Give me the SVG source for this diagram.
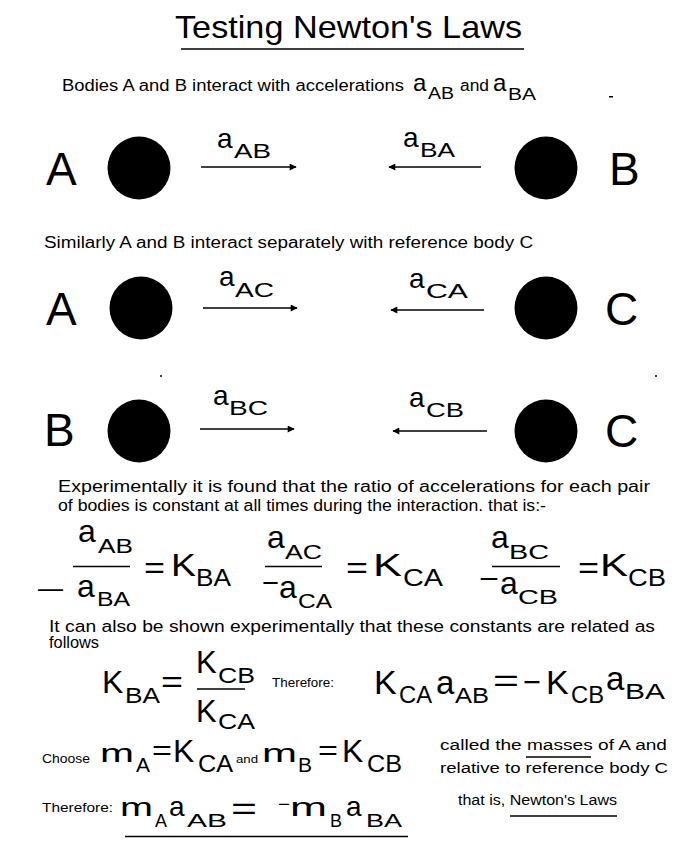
<svg xmlns="http://www.w3.org/2000/svg" width="677" height="841" viewBox="0 0 677 841">
<style>
text{font-family:"Liberation Sans",Arial,sans-serif;fill:#000}
.big{font-size:46px}
.la{font-size:28px}
.ls{font-size:21px}
.body{font-size:16px}
.sm{font-size:12.5px}
.fa{font-size:32px}
.fs{font-size:20px}
.K{font-size:31px}
.Ks{font-size:23px}
.ln{stroke:#000;stroke-width:1.3;fill:none}
.arr{stroke:#000;stroke-width:1.6;fill:none;marker-end:url(#ah)}
</style>
<defs>
<marker id="ah" viewBox="0 0 10 10" refX="9" refY="5" markerUnits="userSpaceOnUse" markerWidth="8" markerHeight="7" orient="auto">
<path d="M0,0 L10,5 L0,10 z" fill="#000"/>
</marker>
</defs>
<rect width="677" height="841" fill="#fff"/>

<g id="title">
<text x="175" y="38" font-size="31.5" textLength="347" lengthAdjust="spacingAndGlyphs">Testing Newton's Laws</text>
<line class="ln" x1="181" y1="49" x2="524" y2="49"/>
</g>

<g id="intro1">
<text class="body" x="62" y="91" textLength="342" lengthAdjust="spacingAndGlyphs">Bodies A and B interact with accelerations</text>
<text x="413" y="91" font-size="24">a</text><text x="428" y="99" font-size="17" textLength="26" lengthAdjust="spacingAndGlyphs">AB</text>
<text class="body" x="460" y="91" textLength="29" lengthAdjust="spacingAndGlyphs">and</text>
<text x="493" y="91" font-size="24">a</text><text x="508" y="100" font-size="17" textLength="28" lengthAdjust="spacingAndGlyphs">BA</text>
<rect x="609" y="96" width="4" height="1.5" fill="#000"/>
</g>

<g id="row1-A"><text class="big" x="46" y="185">A</text><circle cx="139" cy="168" r="31.5"/></g>
<g id="row1-B"><circle cx="546" cy="168" r="31.5"/><text class="big" x="609" y="185">B</text></g>

<g id="row2-A"><text class="big" x="46" y="325">A</text><circle cx="141" cy="308" r="31.5"/></g>
<g id="row2-C"><circle cx="546" cy="308" r="31.5"/><text class="big" x="605" y="325">C</text></g>

<g id="row3-B"><text class="big" x="44" y="446">B</text><circle cx="139" cy="431" r="31.5"/></g>
<g id="row3-C"><circle cx="546" cy="431" r="31.5"/><text class="big" x="605" y="447">C</text></g>

<g id="connectors">
<line class="arr" x1="201" y1="167" x2="296" y2="167"/>
<line class="arr" x1="481" y1="167" x2="389" y2="167"/>
<line class="arr" x1="203" y1="308" x2="297" y2="308"/>
<line class="arr" x1="484" y1="310" x2="391" y2="310"/>
<line class="arr" x1="200" y1="429" x2="294" y2="429"/>
<line class="arr" x1="487" y1="431" x2="393" y2="431"/>
</g>

<g id="labels">
<text class="la" x="217" y="148">a</text><text class="ls" x="234" y="158" textLength="37" lengthAdjust="spacingAndGlyphs">AB</text>
<text class="la" x="403" y="147">a</text><text class="ls" x="420" y="157" textLength="35" lengthAdjust="spacingAndGlyphs">BA</text>
<text class="la" x="219" y="286">a</text><text class="ls" x="235" y="297" textLength="39" lengthAdjust="spacingAndGlyphs">AC</text>
<text class="la" x="409" y="288">a</text><text class="ls" x="426" y="298" textLength="42" lengthAdjust="spacingAndGlyphs">CA</text>
<text class="la" x="213" y="405">a</text><text class="ls" x="229" y="415" textLength="39" lengthAdjust="spacingAndGlyphs">BC</text>
<text class="la" x="409" y="407">a</text><text class="ls" x="426" y="417" textLength="38" lengthAdjust="spacingAndGlyphs">CB</text>
</g>

<circle cx="161" cy="376" r="1" fill="#000"/>
<circle cx="656" cy="376" r="1" fill="#000"/>

<g id="similarly">
<text class="body" x="44" y="248" textLength="489" lengthAdjust="spacingAndGlyphs">Similarly A and B interact separately with reference body C</text>
</g>

<g id="experiment">
<text class="body" x="58" y="492" textLength="592" lengthAdjust="spacingAndGlyphs">Experimentally it is found that the ratio of accelerations for each pair</text>
<text class="body" x="58" y="511" textLength="488" lengthAdjust="spacingAndGlyphs">of bodies is constant at all times during the interaction. that is:-</text>
</g>

<g id="ratio1">
<text class="fa" x="78" y="542">a</text><text class="fs" x="98" y="553" textLength="35" lengthAdjust="spacingAndGlyphs">AB</text>
<line class="ln" x1="73" y1="566.5" x2="130" y2="566.5"/>
<text x="38" y="597" font-size="25" textLength="25" lengthAdjust="spacingAndGlyphs">—</text>
<text class="fa" x="77" y="597">a</text><text class="fs" x="97" y="606" textLength="33" lengthAdjust="spacingAndGlyphs">BA</text>
<text x="144" y="578" font-size="30" textLength="21" lengthAdjust="spacingAndGlyphs">=</text>
<text class="K" x="171" y="576" textLength="25" lengthAdjust="spacingAndGlyphs">K</text><text class="Ks" x="196" y="586" textLength="35" lengthAdjust="spacingAndGlyphs">BA</text>
</g>

<g id="ratio2">
<text class="fa" x="267" y="548">a</text><text class="fs" x="285" y="559" textLength="37" lengthAdjust="spacingAndGlyphs">AC</text>
<line class="ln" x1="265" y1="566.5" x2="322" y2="566.5"/>
<text x="262" y="592" font-size="28" textLength="17" lengthAdjust="spacingAndGlyphs">−</text>
<text class="fa" x="279" y="598">a</text><text class="fs" x="298" y="608" textLength="34" lengthAdjust="spacingAndGlyphs">CA</text>
<text x="346" y="578" font-size="30" textLength="22" lengthAdjust="spacingAndGlyphs">=</text>
<text class="K" x="373" y="576" textLength="29" lengthAdjust="spacingAndGlyphs">K</text><text class="Ks" x="403" y="586" textLength="40" lengthAdjust="spacingAndGlyphs">CA</text>
</g>

<g id="ratio3">
<text class="fa" x="491" y="548">a</text><text class="fs" x="509" y="559" textLength="40" lengthAdjust="spacingAndGlyphs">BC</text>
<line class="ln" x1="492" y1="566.5" x2="560" y2="566.5"/>
<text x="479" y="588" font-size="28" textLength="20" lengthAdjust="spacingAndGlyphs">−</text>
<text class="fa" x="500" y="594">a</text><text class="fs" x="518" y="604" textLength="40" lengthAdjust="spacingAndGlyphs">CB</text>
<text x="578" y="578" font-size="30" textLength="21" lengthAdjust="spacingAndGlyphs">=</text>
<text class="K" x="600" y="576" textLength="28" lengthAdjust="spacingAndGlyphs">K</text><text class="Ks" x="628" y="586" textLength="38" lengthAdjust="spacingAndGlyphs">CB</text>
</g>

<g id="related">
<text class="body" x="49" y="632" textLength="606" lengthAdjust="spacingAndGlyphs">It can also be shown experimentally that these constants are related as</text>
<text class="body" x="49" y="648" textLength="50" lengthAdjust="spacingAndGlyphs">follows</text>
</g>

<g id="kba-eq">
<text x="102" y="693" font-size="32">K</text><text x="125" y="703" font-size="22" textLength="35" lengthAdjust="spacingAndGlyphs">BA</text>
<text x="161" y="692" font-size="30" textLength="22" lengthAdjust="spacingAndGlyphs">=</text>
<text x="196" y="673" font-size="31">K</text><text x="218" y="683" font-size="22" textLength="37" lengthAdjust="spacingAndGlyphs">CB</text>
<line class="ln" x1="197" y1="689" x2="245" y2="689"/>
<text x="196" y="722" font-size="31">K</text><text x="218" y="729" font-size="22" textLength="37" lengthAdjust="spacingAndGlyphs">CA</text>
<text class="sm" x="272" y="687" textLength="62" lengthAdjust="spacingAndGlyphs">Therefore:</text>
</g>

<g id="k-product">
<text x="374" y="694" font-size="34">K</text><text x="399" y="703" font-size="23" textLength="33" lengthAdjust="spacingAndGlyphs">CA</text>
<text x="436" y="694" font-size="33">a</text><text x="455" y="703" font-size="22" textLength="34" lengthAdjust="spacingAndGlyphs">AB</text>
<text x="493" y="691" font-size="32" textLength="26" lengthAdjust="spacingAndGlyphs">=</text>
<text x="523" y="693" font-size="32" textLength="18" lengthAdjust="spacingAndGlyphs">−</text>
<text x="546" y="694" font-size="34">K</text><text x="571" y="703" font-size="23" textLength="33" lengthAdjust="spacingAndGlyphs">CB</text>
<text x="606" y="690" font-size="33">a</text><text x="625" y="699" font-size="22" textLength="40" lengthAdjust="spacingAndGlyphs">BA</text>
</g>

<g id="choose">
<text class="sm" x="42" y="763" textLength="48" lengthAdjust="spacingAndGlyphs">Choose</text>
<text x="100" y="762" font-size="26" textLength="34" lengthAdjust="spacingAndGlyphs">m</text><text x="136" y="772" font-size="20" textLength="14" lengthAdjust="spacingAndGlyphs">A</text>
<text x="152" y="760" font-size="28" textLength="20" lengthAdjust="spacingAndGlyphs">=</text>
<text x="173" y="762" font-size="32" textLength="25">K</text><text x="198" y="772" font-size="23" textLength="35" lengthAdjust="spacingAndGlyphs">CA</text>
<text x="236" y="763" font-size="11" textLength="22" lengthAdjust="spacingAndGlyphs">and</text>
<text x="262" y="762" font-size="26" textLength="35" lengthAdjust="spacingAndGlyphs">m</text><text x="298" y="772" font-size="20" textLength="14" lengthAdjust="spacingAndGlyphs">B</text>
<text x="318" y="760" font-size="28" textLength="20" lengthAdjust="spacingAndGlyphs">=</text>
<text x="342" y="762" font-size="32" textLength="25">K</text><text x="367" y="772" font-size="23" textLength="35" lengthAdjust="spacingAndGlyphs">CB</text>
</g>

<g id="masses-note">
<text x="440" y="750" font-size="14" textLength="227" lengthAdjust="spacingAndGlyphs">called the masses of A and</text>
<line class="ln" x1="526" y1="757" x2="591" y2="757" stroke-width="1"/>
<text x="440" y="773" font-size="14" textLength="228" lengthAdjust="spacingAndGlyphs">relative to reference body C</text>
</g>

<g id="newton">
<text class="sm" x="42" y="812" textLength="71" lengthAdjust="spacingAndGlyphs">Therefore:</text>
<text x="120" y="816" font-size="25" textLength="33" lengthAdjust="spacingAndGlyphs">m</text><text x="155" y="827" font-size="19" textLength="12" lengthAdjust="spacingAndGlyphs">A</text>
<text x="169" y="816" font-size="28">a</text><text x="187" y="827" font-size="19" textLength="40" lengthAdjust="spacingAndGlyphs">AB</text>
<text x="231" y="819" font-size="32" textLength="26" lengthAdjust="spacingAndGlyphs">=</text>
<text x="278" y="811" font-size="20" textLength="12" lengthAdjust="spacingAndGlyphs">−</text>
<text x="290" y="816" font-size="25" textLength="37" lengthAdjust="spacingAndGlyphs">m</text><text x="330" y="827" font-size="19" textLength="12" lengthAdjust="spacingAndGlyphs">B</text>
<text x="346" y="816" font-size="28">a</text><text x="366" y="827" font-size="19" textLength="36" lengthAdjust="spacingAndGlyphs">BA</text>
<line class="ln" x1="125" y1="836.5" x2="408" y2="836.5"/>
<text x="458" y="805" font-size="14" textLength="159" lengthAdjust="spacingAndGlyphs">that is, Newton's Laws</text>
<line class="ln" x1="510" y1="816" x2="617" y2="816" stroke-width="1"/>
</g>
</svg>
